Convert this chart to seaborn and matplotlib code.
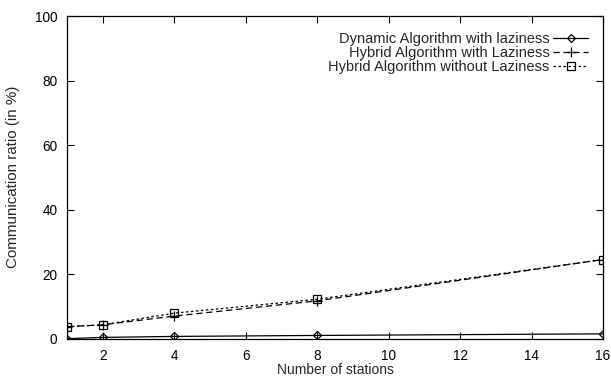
import matplotlib
matplotlib.use("Agg")
import matplotlib.pyplot as plt
import seaborn as sns
import pandas as pd

stations = [1, 2, 4, 8, 16]
dynamic_lazy = [0.1, 0.5, 0.8, 1.1, 1.6]
hybrid_lazy = [3.8, 4.4, 7.1, 11.8, 24.6]
hybrid_nolazy = [3.8, 4.4, 8.0, 12.3, 24.6]
series_names = ["Dynamic Algorithm with laziness",
                "Hybrid Algorithm with Laziness",
                "Hybrid Algorithm without Laziness"]

sns.set_style("ticks")
plt.rcParams['font.family'] = ['Liberation Sans', 'DejaVu Sans']
plt.rcParams['font.size'] = 9.5

df = pd.DataFrame({
    "x": stations * 3,
    "y": dynamic_lazy + hybrid_lazy + hybrid_nolazy,
    "series": [series_names[0]] * 5 + [series_names[1]] * 5 + [series_names[2]] * 5,
})

fig = plt.figure(figsize=(6.11, 3.76), dpi=100)
ax = fig.add_axes([67/611, 1-339/376, (603-67)/611, (339-16)/376])

styles = [
    dict(marker="D", ms=4, linestyle="-"),
    dict(marker="+", ms=7, linestyle=(0, (5, 3))),
    dict(marker="s", ms=6, linestyle=(0, (2, 2))),
]
for name, st in zip(series_names, styles):
    sub = df[df["series"] == name]
    sns.lineplot(data=sub, x="x", y="y", ax=ax, color="black", lw=0.9,
                 marker=st["marker"], markersize=st["ms"], linestyle=st["linestyle"],
                 markerfacecolor="none", markeredgecolor="black", markeredgewidth=0.9,
                 label=name)

ax.set_xlim(1, 16)
ax.set_ylim(0, 100)
ax.set_xticks([2, 4, 6, 8, 10, 12, 14, 16])
ax.set_yticks([0, 20, 40, 60, 80, 100])
ax.tick_params(direction="in", length=5, width=0.8, top=True, right=True,
               labelsize=9.8, colors="black", pad=7)
for s in ax.spines.values():
    s.set_visible(True)
    s.set_linewidth(0.9)
    s.set_color("black")
ax.set_xlabel("Number of stations", fontsize=10, labelpad=0)
ax.set_ylabel("Communication ratio (in %)", fontsize=10.9)
ax.yaxis.set_label_coords(20/611, 1-176.5/376, transform=fig.transFigure)

leg = ax.legend(loc="upper right", frameon=False, markerfirst=False,
                fontsize=10.5, handlelength=2.4, handletextpad=0.25,
                borderaxespad=0, borderpad=0, labelspacing=0.0,
                bbox_to_anchor=(588/611, 1-32/376), bbox_transform=fig.transFigure)

fig.savefig("out.png", dpi=100)
